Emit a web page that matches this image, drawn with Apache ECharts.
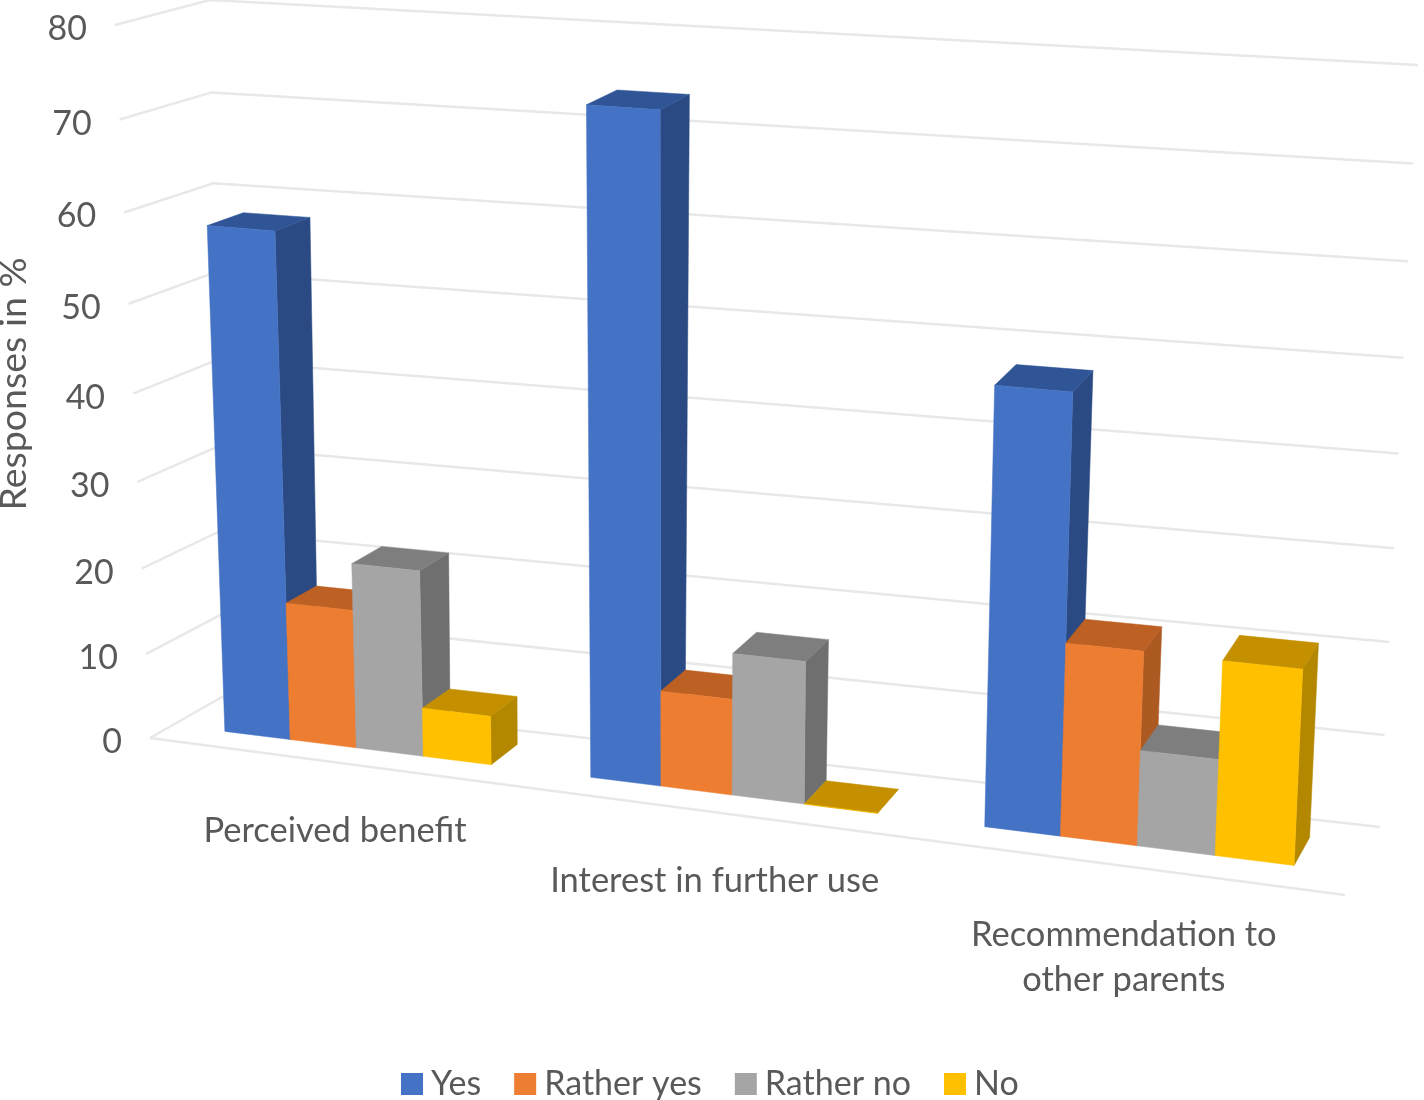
<!DOCTYPE html>
<html><head><meta charset="utf-8">
<style>html,body{margin:0;padding:0;background:#fff}#c{width:1424px;height:1100px}</style>
<script src="https://cdn.jsdelivr.net/npm/echarts@6/dist/echarts.min.js"></script>
</head><body><div id="c"></div>
<script>
const categories = ['Perceived benefit', 'Interest in further use', 'Recommendation to\nother parents'];
const seriesNames = ['Yes', 'Rather yes', 'Rather no', 'No'];
const yesValues = [58, 73.9, 47.8];
const ratherYesValues = [16.1, 10.85, 21.1];
const ratherNoValues = [21.5, 16, 10.4];
const noValues = [5.65, 0, 21];
const yTicks = [0, 10, 20, 30, 40, 50, 60, 70, 80];
const axisTitle = 'Responses in %';
const yMax = 80;

const frontColors = ['#4472C4', '#ED7D31', '#A5A5A5', '#FFC000'];
const sideColors  = ['#2B4A83', '#AD5A22', '#6F6F6F', '#B38700'];
const topColors   = ['#2F5597', '#BC6023', '#7E7E7E', '#C49000'];
const textColor = '#595959', gridColor = '#E8E8E8';
const FONT = 'Lato, "Open Sans", sans-serif';

// frame of the 3D box and its projected corners
const FRAME = {left: 150, top: 25, width: 1200, height: 713};
const GRID = {left: 156, top: 25, width: 1190, height: 713};
const box = {
  fbl: [150, 738], fbr: [1345, 895], bbl: [222, 697], bbr: [1380, 827],
  ftl: [115, 25],  ftr: [1382, 115], btl: [210, 0],   btr: [1418, 65]
};
const PERSP_U = 1.12, PERSP_V_LEFT = 1.07, PERSP_V_RIGHT = 1.04, W0 = 0.32, W1 = 0.74, CLUSTER = 0.735;
const mix = (a, b, t) => [a[0] + (b[0] - a[0]) * t, a[1] + (b[1] - a[1]) * t];
const warp = (x, k) => x / (k - (k - 1) * x);
function project(s, v, w) {
  const u = warp(s, PERSP_U), h = warp(v, PERSP_V_LEFT + (PERSP_V_RIGHT - PERSP_V_LEFT) * u);
  const bf = mix(box.fbl, box.fbr, u), bb = mix(box.bbl, box.bbr, u);
  const tf = mix(box.ftl, box.ftr, u), tb = mix(box.btl, box.btr, u);
  return mix(mix(bf, bb, w), mix(tf, tb, w), h);
}
const toS = x => (x - FRAME.left) / FRAME.width;
const toV = y => (FRAME.top + FRAME.height - y) / FRAME.height;

function barItem(si) {
  return function (params, api) {
    const p = api.coord([api.value(0), api.value(1)]);
    const base = api.coord([api.value(0), 0]);
    const band = api.size([1, 0])[0];
    const bw = band * CLUSTER / 4;
    const x0 = p[0] - band * CLUSTER / 2 + si * bw, x1 = x0 + bw;
    const s0 = toS(x0), s1 = toS(x1), v = toV(p[1]), b = toV(base[1]);
    const poly = (pts, fill) => ({type: 'polygon', shape: {points: pts},
      style: {fill, stroke: fill, lineWidth: 0.5}});
    return {type: 'group', children: [
      poly([project(s1, b, W0), project(s1, b, W1), project(s1, v, W1), project(s1, v, W0)], sideColors[si]),
      poly([project(s0, v, W0), project(s1, v, W0), project(s1, v, W1), project(s0, v, W1)], topColors[si]),
      poly([project(s0, b, W0), project(s1, b, W0), project(s1, v, W0), project(s0, v, W0)], frontColors[si])
    ]};
  };
}
function gridItem(params, api) {
  const t = api.value(1), v = toV(api.coord([0, t])[1]);
  const line = pts => ({type: 'polyline', shape: {points: pts},
    style: {fill: 'none', stroke: gridColor, lineWidth: 2.5}});
  const a = project(0, v, 0), children = [line([a, project(0, v, 1), project(1, v, 1)])];
  if (t === 0) children.push(line([a, project(1, v, 0)]));
  children.push({type: 'text', style: {x: a[0] - 28, y: a[1] + 4, text: String(t),
    fill: textColor, font: '34px ' + FONT, align: 'right', verticalAlign: 'middle'}});
  return {type: 'group', children};
}
function catLabelItem(params, api) {
  const p = api.coord([api.value(0), 0]);
  const a = project(toS(p[0]), 0, 0);
  return {type: 'text', style: {x: a[0], y: a[1] + 46, text: categories[params.dataIndex],
    fill: textColor, font: '34.5px ' + FONT, align: 'center', verticalAlign: 'top', lineHeight: 45}};
}

const allValues = [yesValues, ratherYesValues, ratherNoValues, noValues];
const chart = echarts.init(document.getElementById('c'), null, {renderer: 'canvas'});
chart.setOption({
  animation: false,
  backgroundColor: '#fff',
  grid: GRID,
  xAxis: {type: 'category', data: categories, show: false},
  yAxis: {type: 'value', min: 0, max: yMax, interval: 10, show: false},
  legend: {
    data: seriesNames, left: 396, top: 1062, itemWidth: 22, itemHeight: 22, itemGap: 33,
    icon: 'rect', selectedMode: false,
    textStyle: {color: textColor, fontSize: 34, fontFamily: FONT, padding: [0, 0, 0, 3]}
  },
  graphic: [{type: 'text', rotation: Math.PI / 2, x: 14, y: 384,
    style: {text: axisTitle, fill: textColor, font: '37.5px ' + FONT, align: 'center', verticalAlign: 'middle'}}],
  series: [
    {type: 'custom', name: 'gridlines', silent: true, clip: false, z: 1, renderItem: gridItem,
     data: yTicks.map(t => [0, t]), encode: {x: 0, y: 1}},
    {type: 'custom', name: 'categoryLabels', silent: true, clip: false, z: 1, renderItem: catLabelItem,
     data: categories.map((c, i) => [i, 0]), encode: {x: 0, y: 1}},
    ...seriesNames.map((n, si) => ({
      type: 'custom', name: n, clip: false, z: 2 + si, renderItem: barItem(si),
      itemStyle: {color: frontColors[si]},
      data: allValues[si].map((v, i) => [i, v]), encode: {x: 0, y: 1}
    }))
  ]
});
</script></body></html>
